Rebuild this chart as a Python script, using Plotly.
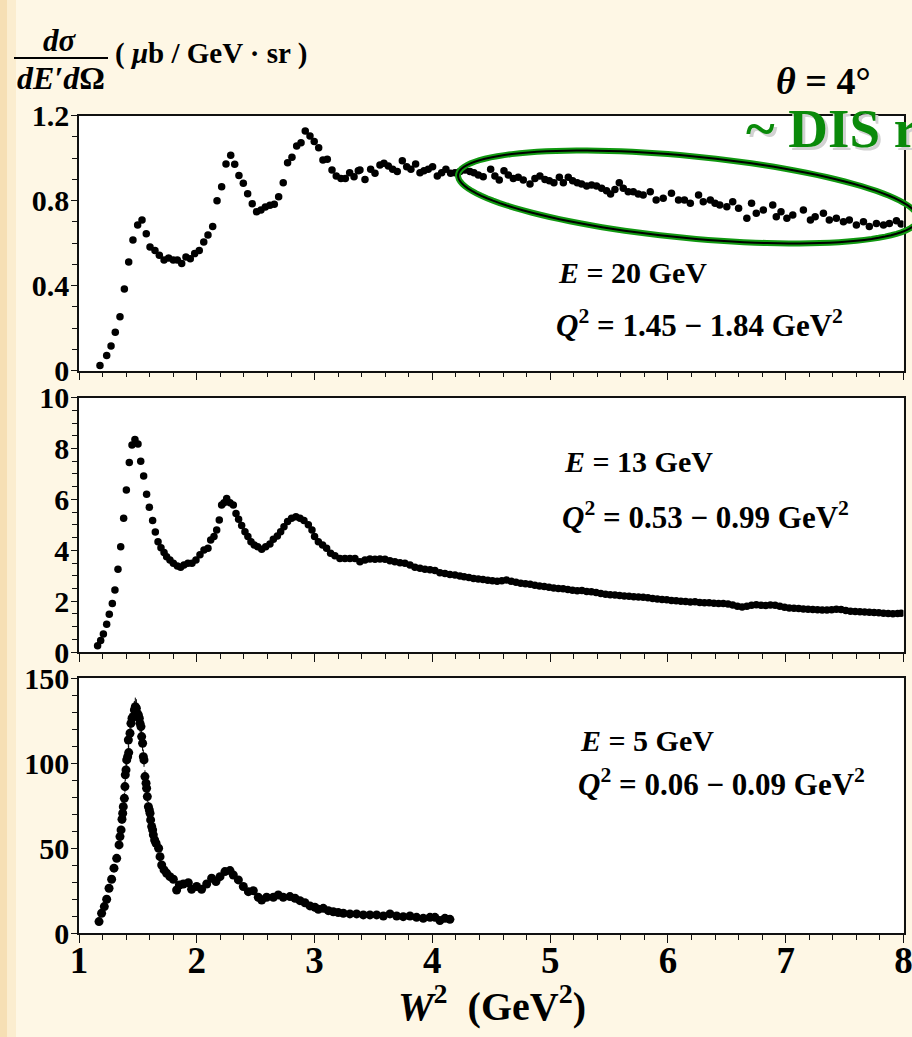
import numpy as np
import plotly.graph_objects as go
from plotly.subplots import make_subplots

# ---------------- data ----------------
# Panel 1: E = 20 GeV
w2_e20 = [1.178,1.235,1.272,1.308,1.348,1.385,1.422,1.458,1.498,1.535,1.571,1.603,1.645,1.682,1.722,1.761,1.800,1.835,1.872,1.908,
          1.945,1.982,2.021,2.059,2.095,2.135,2.172,2.211,2.248,2.288,2.322,2.358,2.395,2.432,2.471,2.508,2.545,2.582,2.621,2.658,
          2.695,2.734,2.771,2.808,2.848,2.885,2.921,2.961,2.997,3.035,3.071,3.108,3.148,3.184,3.224,3.261,3.298,3.335,3.371,
          3.385,3.428,3.476,3.513,3.555,3.589,3.626,3.663,3.702,3.745,3.782,3.818,3.858,3.895,3.929,3.965,4.002,4.042,4.079,4.115,
          4.155,4.192,4.234,4.277,4.319,4.353,4.390,4.432,4.495,4.531,4.568,4.608,4.645,4.687,4.729,4.772,4.829,4.871,4.913,4.956,
          4.993,5.032,5.078,5.112,5.154,5.191,5.230,5.267,5.310,5.352,5.394,5.437,5.479,5.513,5.550,5.587,5.621,5.663,5.706,5.748,
          5.79,5.85,5.90,5.96,6.03,6.09,6.14,6.19,6.26,6.30,6.36,6.40,6.44,6.50,6.55,6.60,6.67,6.71,6.75,6.81,6.89,6.92,6.96,7.01,
          7.06,7.15,7.21,7.25,7.32,7.37,7.43,7.49,7.54,7.60,7.66,7.71,7.77,7.83,7.88,7.94,7.98]
xs_e20 = [0.024,0.071,0.116,0.181,0.254,0.384,0.512,0.615,0.686,0.709,0.645,0.582,0.566,0.543,0.521,0.530,0.521,0.521,0.504,0.535,
          0.527,0.551,0.566,0.606,0.639,0.678,0.800,0.866,0.973,1.014,0.971,0.919,0.882,0.833,0.786,0.748,0.756,0.770,0.778,0.783,
          0.819,0.885,0.979,1.004,1.057,1.073,1.128,1.104,1.079,1.049,0.991,0.995,0.944,0.916,0.904,0.905,0.932,0.913,0.941,
          0.945,0.900,0.948,0.929,0.968,0.976,0.963,0.948,0.937,0.988,0.960,0.948,0.973,0.932,0.941,0.948,0.960,0.916,0.932,0.948,
          0.929,0.932,0.937,0.945,0.937,0.932,0.921,0.913,0.948,0.916,0.897,0.941,0.921,0.905,0.910,0.897,0.878,0.905,0.916,0.900,
          0.894,0.885,0.910,0.885,0.910,0.894,0.885,0.879,0.869,0.874,0.869,0.858,0.847,0.832,0.853,0.885,0.858,0.842,0.842,0.832,
          0.827,0.842,0.803,0.811,0.835,0.803,0.803,0.788,0.827,0.795,0.803,0.788,0.780,0.772,0.795,0.764,0.717,0.788,0.741,0.756,
          0.780,0.725,0.748,0.717,0.733,0.756,0.709,0.725,0.741,0.709,0.717,0.701,0.709,0.686,0.701,0.678,0.693,0.686,0.693,0.706,0.690]

# Panel 2: E = 13 GeV
w2_e13 = [1.158,1.184,1.207,1.235,1.257,1.283,1.305,1.331,1.354,1.379,1.402,1.427,1.450,1.475,1.501,1.524,1.549,1.574,1.597,1.625,
          1.648,1.671,1.696,1.722,1.744,1.772,1.801,1.835,1.863,1.891,1.925,1.959,1.993,2.027,2.061,2.095,2.118,2.146,2.169,2.191,
          2.211,2.231,2.254,2.282,2.310,2.333,2.355,2.381,2.409,2.434,2.460,2.488,2.517,2.551,2.585,2.621,2.650,2.684,2.712,2.740,
          2.771,2.805,2.842,2.876,2.910,2.947,2.978,3.000,3.032,3.068,3.102,3.136,3.173,3.215,3.258,3.300,3.343,3.385,3.428,3.470,
          3.513,3.555,3.598,3.640,3.682,3.725,3.767,3.810,3.852,3.895,3.937,3.980,4.022,4.064,4.107,4.149,4.192,4.234,
          4.27,4.31,4.35,4.39,4.43,4.47,4.51,4.55,4.59,4.63,4.67,4.71,4.75,4.79,4.83,4.87,4.91,4.95,4.99,5.03,5.07,5.11,5.15,5.19,
          5.23,5.27,5.31,5.35,5.39,5.43,5.47,5.51,5.55,5.59,5.63,5.67,5.71,5.75,5.79,5.83,5.87,5.91,5.95,5.99,6.03,6.07,6.11,6.15,
          6.19,6.23,6.27,6.31,6.35,6.39,6.43,6.47,6.51,6.55,6.59,6.63,6.67,6.71,6.75,6.79,6.83,6.87,6.91,6.95,6.99,7.03,7.07,7.11,
          7.15,7.19,7.23,7.27,7.31,7.35,7.39,7.43,7.47,7.51,7.55,7.59,7.63,7.67,7.71,7.75,7.79,7.83,7.87,7.91,7.95,7.98]
xs_e13 = [0.25,0.45,0.71,1.09,1.48,1.91,2.44,3.25,4.14,5.26,6.37,7.45,8.14,8.36,8.18,7.50,6.92,6.20,5.69,5.17,
          4.72,4.34,4.10,3.91,3.75,3.62,3.49,3.38,3.33,3.42,3.49,3.49,3.62,3.82,4.01,4.08,4.40,4.54,4.80,5.19,
          5.78,5.87,6.04,5.87,5.78,5.45,5.22,4.97,4.73,4.54,4.34,4.21,4.14,4.04,4.14,4.25,4.43,4.56,4.73,4.93,
          5.13,5.26,5.32,5.26,5.17,5.00,4.80,4.54,4.34,4.21,4.08,3.88,3.78,3.68,3.68,3.68,3.68,3.55,3.62,3.66,
          3.65,3.66,3.65,3.59,3.55,3.51,3.49,3.42,3.33,3.29,3.25,3.23,3.20,3.12,3.09,3.05,3.03,2.99,
          2.96,2.93,2.89,2.87,2.85,2.82,2.80,2.78,2.80,2.83,2.78,2.74,2.70,2.68,2.66,2.62,2.60,2.58,2.55,2.52,2.50,2.49,2.46,2.43,
          2.41,2.42,2.38,2.37,2.34,2.30,2.27,2.25,2.24,2.22,2.20,2.19,2.17,2.16,2.15,2.13,2.10,2.08,2.06,2.05,2.03,2.02,2.00,1.99,
          1.97,1.98,1.95,1.94,1.94,1.92,1.91,1.91,1.89,1.85,1.80,1.77,1.80,1.84,1.86,1.84,1.83,1.85,1.84,1.80,1.76,1.73,1.72,1.71,
          1.69,1.68,1.67,1.66,1.65,1.65,1.66,1.68,1.67,1.63,1.60,1.59,1.58,1.57,1.56,1.55,1.54,1.52,1.51,1.50,1.51,1.52]

# Panel 3: E = 5 GeV
w2_e5 = [1.170,1.192,1.215,1.235,1.255,1.277,1.297,1.320,1.340,1.348,1.357,1.365,1.371,1.376,1.385,1.390,1.393,1.399,1.405,1.413,
         1.419,1.422,1.433,1.441,1.450,1.461,1.470,1.478,1.487,1.495,1.504,1.512,1.518,1.526,1.532,1.540,1.546,1.552,1.560,1.569,
         1.574,1.580,1.589,1.597,1.603,1.608,1.617,1.625,1.631,1.642,1.654,1.676,1.688,1.702,1.722,1.744,1.772,1.801,1.829,
         1.852,1.886,1.928,1.956,1.999,2.041,2.084,2.126,2.163,2.197,2.239,2.282,2.310,2.353,2.395,2.438,2.480,2.522,2.551,2.593,
         2.650,2.692,2.734,2.791,2.834,2.876,2.918,2.961,3.003,3.032,3.074,3.117,3.159,3.201,3.244,3.300,3.357,3.414,3.470,3.527,
         3.584,3.640,3.697,3.753,3.810,3.866,3.923,3.980,4.022,4.064,4.107,4.149]
xs_e5 = [6.9,11.8,15.7,20.0,26.5,31.8,38.3,44.1,52.0,56.9,60.8,67.1,70.6,74.5,79.4,86.3,93.2,96.1,102.0,103.9,
         113.7,106.3,117.7,123.5,126.5,127.5,131.4,133.3,132.4,129.4,128.4,126.5,123.5,121.6,115.7,111.8,103.9,102.0,92.2,88.3,
         85.3,80.4,74.5,72.6,70.6,66.7,62.8,60.8,57.9,54.9,53.0,50.0,45.1,40.2,37.3,35.3,33.3,31.8,25.5,
         28.4,29.0,29.8,25.9,27.5,25.9,29.0,32.4,30.4,33.3,36.3,36.9,34.3,31.4,27.5,24.5,25.1,21.2,19.6,21.2,
         21.2,22.6,21.2,21.6,20.6,19.2,18.0,16.1,15.3,14.1,14.7,13.3,12.7,12.2,11.8,11.4,11.4,10.8,10.8,10.8,
         10.2,11.4,10.2,9.8,10.2,9.4,8.8,9.4,9.4,7.5,8.8,8.2]

x_ticks = [1, 2, 3, 4, 5, 6, 7, 8]
y1_ticks = [0, 0.4, 0.8, 1.2]
y1_text = ["0", "0.4", "0.8", "1.2"]
y2_ticks = [0, 2, 4, 6, 8, 10]
y3_ticks = [0, 50, 100, 150]

# ---------------- figure ----------------
W, H = 912, 1037
def px(x):
    return x / W
def py(y):
    return 1 - y / H

FONT = "Liberation Serif"

fig = make_subplots(rows=3, cols=1)

fig.add_trace(go.Scatter(x=w2_e20, y=xs_e20, mode="markers", marker=dict(color="black", size=7.5),
                         showlegend=False), row=1, col=1)
fig.add_trace(go.Scatter(x=w2_e13, y=xs_e13, mode="markers", marker=dict(color="black", size=7.5),
                         showlegend=False), row=2, col=1)
fig.add_trace(go.Scatter(x=w2_e5, y=xs_e5, mode="markers", marker=dict(color="black", size=9), showlegend=False,
                         error_y=dict(type="percent", value=4, color="black", thickness=1, width=0)), row=3, col=1)

xdom = [px(79), px(903.5)]
ydoms = [[py(370.7), py(115.7)], [py(652), py(397.7)], [py(933.3), py(678.3)]]

axline = dict(showline=True, linecolor="#111", linewidth=1.5, mirror=True, showgrid=False, zeroline=False,
              automargin=False, ticklabeloverflow="allow")
tickfont = dict(family=FONT, size=30, color="black", weight="bold")

for i in range(3):
    xa = "xaxis" if i == 0 else f"xaxis{i+1}"
    ya = "yaxis" if i == 0 else f"yaxis{i+1}"
    fig.layout[xa].update(domain=xdom, range=[1, 8], tickvals=x_ticks, ticks="outside", ticklen=8, tickwidth=1.2,
                          tickcolor="#111", showticklabels=(i == 2), ticklabelstandoff=-14,
                          tickfont=dict(family=FONT, size=37, color="black", weight="bold"),
                          minor=dict(dtick=0.2, ticks="outside", ticklen=5, tickwidth=1, tickcolor="#111"),
                          **axline)
    fig.layout[ya].update(domain=ydoms[i], ticks="outside", ticklen=6, tickwidth=1.2, tickcolor="#111",
                          tickfont=tickfont, ticklabelstandoff=-4, **axline)

fig.layout.yaxis.update(range=[0, 1.2], tickvals=y1_ticks, ticktext=y1_text,
                        minor=dict(dtick=0.1, ticks="outside", ticklen=5, tickcolor="#111"))
fig.layout.yaxis2.update(range=[0, 10], tickvals=y2_ticks,
                         minor=dict(dtick=0.5, ticks="outside", ticklen=5, tickcolor="#111"))
fig.layout.yaxis3.update(range=[0, 150], tickvals=y3_ticks,
                         minor=dict(dtick=10, ticks="outside", ticklen=5, tickcolor="#111"))

annos = []
def txt(text, x, y, size, xanchor="left", color="black", yanchor="middle"):
    annos.append(dict(text=text, x=px(x), y=py(y), xref="paper", yref="paper", showarrow=False,
                      xanchor=xanchor, yanchor=yanchor,
                      font=dict(family=FONT, size=size, color=color, weight="bold")))

# panel labels
txt("<i>E</i> = 20 GeV", 556, 272, 30)
txt("<i>Q</i><sup>2</sup> = 1.45 \u2212 1.84 GeV<sup>2</sup>", 554, 323, 31)
txt("<i>E</i> = 13 GeV", 562, 462, 30)
txt("<i>Q</i><sup>2</sup> = 0.53 \u2212 0.99 GeV<sup>2</sup>", 560, 515, 31)
txt("<i>E</i> = 5 GeV", 578, 740, 30)
txt("<i>Q</i><sup>2</sup> = 0.06 \u2212 0.09 GeV<sup>2</sup>", 576, 782, 31)

# angle and DIS label
txt("<i>\u03b8</i> = 4\u00b0", 774, 81, 38)
txt("~ DIS region", 747, 132, 55, color="#d2d2d2")
txt("~ DIS region", 744, 129, 55, color="#0a8a0a")

# y axis title (fraction)
txt("<i>d\u03c3</i>", 60, 41, 31, xanchor="center")
txt("<i>dE\u2032d</i>\u03a9", 61, 78, 32, xanchor="center")
txt("( <i>\u03bc</i>b / GeV \u00b7 sr )", 113, 54, 29)

# x axis title
txt("<i>W</i><sup>2</sup>  (GeV<sup>2</sup>)", 492, 1003, 40, xanchor="center")

shapes = []
# warm left edge of the slide background
shapes.append(dict(type="rect", xref="paper", yref="paper", x0=0, x1=px(7), y0=0, y1=1,
                   fillcolor="#F6DFB4", line=dict(width=0), layer="below"))
shapes.append(dict(type="rect", xref="paper", yref="paper", x0=px(7), x1=px(16), y0=0, y1=1,
                   fillcolor="#FBEDCF", line=dict(width=0), layer="below"))
# fraction bar
shapes.append(dict(type="line", xref="paper", yref="paper", x0=px(14), x1=px(108), y0=py(58), y1=py(58),
                   line=dict(color="black", width=2)))
# DIS ellipse (decoration, pixel geometry)
t = np.linspace(0, 2 * np.pi, 121)
cx, cy, a, b, ang = 688, 197, 231, 41, np.deg2rad(5.5)
ex = cx + a * np.cos(t) * np.cos(ang) - b * np.sin(t) * np.sin(ang)
ey = cy + a * np.cos(t) * np.sin(ang) + b * np.sin(t) * np.cos(ang)
path = "M " + " L ".join(f"{px(u):.5f},{py(v):.5f}" for u, v in zip(ex, ey)) + " Z"
shapes.append(dict(type="path", xref="paper", yref="paper", path=path, line=dict(color="#119911", width=6)))
shapes.append(dict(type="path", xref="paper", yref="paper", path=path, line=dict(color="black", width=2)))

fig.update_layout(width=W, height=H, margin=dict(l=0, r=0, t=0, b=0, autoexpand=False),
                  paper_bgcolor="#FEF7E5", plot_bgcolor="white",
                  annotations=annos, shapes=shapes, showlegend=False)

fig.write_html("out.html")
